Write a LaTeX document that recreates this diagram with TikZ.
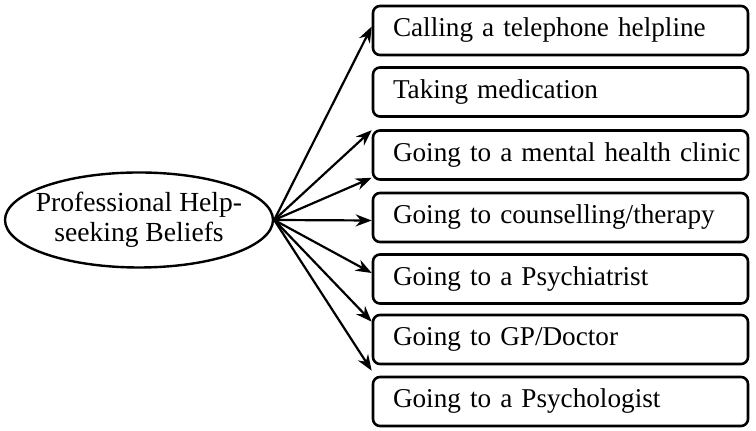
\documentclass[tikz,border=0pt]{standalone}
\usepackage{fontspec}
\setmainfont{Liberation Serif}
\usetikzlibrary{arrows.meta,shapes.geometric,calc}

\begin{document}
\begin{tikzpicture}[x=0.5pt,y=-0.5pt,>={Stealth[length=8pt,width=6pt]},
  belief/.style={draw,line width=1.3pt,rounded corners=3.5pt,
    minimum width=187.5pt,minimum height=24.5pt,text width=167.5pt,
    align=left,inner xsep=10pt,font=\fontsize{13.6}{16}\selectfont},
  link/.style={->,line width=1.1pt}]
\useasboundingbox (0,0) rectangle (756,431);

\node[ellipse,draw,line width=1.2pt,minimum width=134pt,minimum height=47.5pt,
  inner xsep=-4.5pt,inner ysep=0pt,align=center,
  font=\fontsize{13.8}{15}\selectfont] (pb) at (139,220)
  {Professional Help-\\seeking Beliefs};

\node[belief] (b1) at (560.5,30.5) {Calling a telephone helpline};
\node[belief] (b2) at (560.5,92) {Taking medication};
\node[belief] (b3) at (560.5,155) {\mbox{Going to a mental health clinic}};
\node[belief] (b4) at (560.5,217.5) {Going to counselling/therapy};
\node[belief] (b5) at (560.5,279) {Going to a Psychiatrist};
\node[belief] (b6) at (560.5,339.5) {Going to GP/Doctor};
\node[belief] (b7) at (560.5,401.5) {Going to a Psychologist};

\draw[link] (pb.east) -- ($(b1.west)+(0,-4)$);
\draw[link] (pb.east) -- ($(b3.north west)+(0,1)$);
\draw[link] (pb.east) -- ($(b3.south west)+(0,-3)$);
\draw[link] (pb.east) -- ($(b4.west)+(0,3)$);
\draw[link] (pb.east) -- ($(b5.west)+(0,-6)$);
\draw[link] (pb.east) -- ($(b6.north west)+(0,8)$);
\draw[link] (pb.east) -- ($(b7.north west)+(0,-5)$);
\end{tikzpicture}
\end{document}
